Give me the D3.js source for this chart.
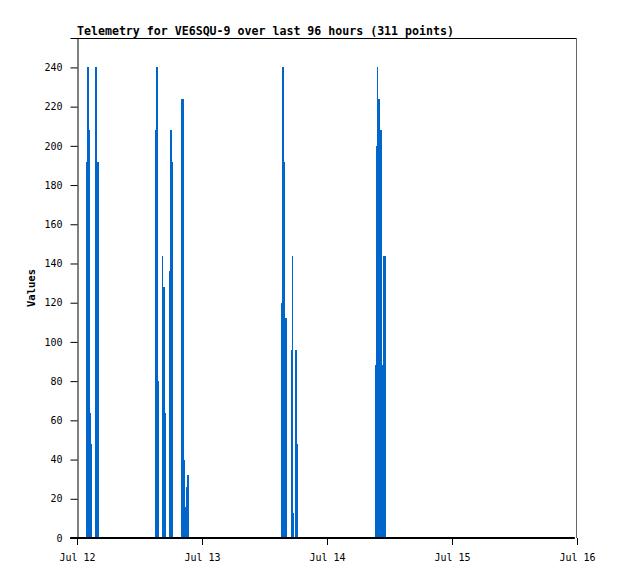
<!DOCTYPE html>
<html>
<head>
<meta charset="utf-8">
<script src="https://cdn.jsdelivr.net/npm/d3@7"></script>
<style>
  html, body { margin: 0; padding: 0; background: #fff; }
  svg { display: block; }
  text { font-family: "DejaVu Sans Mono", "Liberation Mono", monospace; }
</style>
</head>
<body>
<script>
// ---- data ----
const chartTitle = "Telemetry for VE6SQU-9 over last 96 hours (311 points)";
const yTitle = "Values";
const readingTimes = [
  "07-12 00:02",
  "07-12 01:44", "07-12 01:55", "07-12 02:18", "07-12 02:30", "07-12 02:41", "07-12 02:53",
  "07-12 03:24", "07-12 03:47", "07-12 04:14",
  "07-12 14:59", "07-12 15:14", "07-12 15:30", "07-12 15:41",
  "07-12 16:17", "07-12 16:34", "07-12 16:50", "07-12 17:05",
  "07-12 17:40", "07-12 17:55", "07-12 18:11", "07-12 18:26",
  "07-12 19:58", "07-12 20:29", "07-12 20:41", "07-12 20:52", "07-12 20:56", "07-12 21:07", "07-12 21:25",
  "07-13 15:10", "07-13 15:25", "07-13 15:41", "07-13 16:00", "07-13 16:16",
  "07-13 17:02", "07-13 17:16", "07-13 17:31", "07-13 17:44",
  "07-13 17:54", "07-13 18:10", "07-13 18:22",
  "07-14 09:13", "07-14 09:24", "07-14 09:34", "07-14 09:51", "07-14 10:14", "07-14 10:30", "07-14 10:42", "07-14 11:16",
  "07-15 23:35"
];
const readingValues = [
  0,
  192, 240, 208, 64, 48, 0,
  240, 192, 0,
  208, 240, 80, 0,
  144, 128, 64, 0,
  136, 208, 192, 0,
  224, 40, 16, 4, 26, 32, 0,
  120, 240, 192, 112, 0,
  96, 144, 13, 0,
  96, 48, 0,
  88, 200, 240, 224, 208, 88, 144, 0,
  0
];
const xTickTimes = ["07-12 00:00", "07-13 00:00", "07-14 00:00", "07-15 00:00", "07-16 00:00"];
const xTickLabels = ["Jul 12", "Jul 13", "Jul 14", "Jul 15", "Jul 16"];
const yTickValues = [0, 20, 40, 60, 80, 100, 120, 140, 160, 180, 200, 220, 240];
const yMax = 255;

// ---- drawing ----
const W = 618, H = 579;
const mLeft = 77, mRight = 577, mTop = 38, mBottom = 538;
const parse = d3.timeParse("%m-%d %H:%M");

const data = readingTimes.map((t, i) => ({ t: parse(t), v: readingValues[i] }));

const x = d3.scaleTime()
  .domain([parse(xTickTimes[0]), parse(xTickTimes[xTickTimes.length - 1])])
  .range([mLeft, mRight]);
const y = d3.scaleLinear().domain([0, yMax]).range([mBottom, mTop]);

const svg = d3.select("body").append("svg").attr("width", W).attr("height", H);
svg.append("rect").attr("width", W).attr("height", H).attr("fill", "#fff");

// bars as step-filled area
const area = d3.area()
  .x(d => x(d.t))
  .y0(y(0))
  .y1(d => y(d.v))
  .curve(d3.curveStepAfter);
svg.append("path").datum(data)
  .attr("d", area)
  .attr("fill", "#0066cc")
  .attr("shape-rendering", "crispEdges");

// frame
svg.append("line").attr("x1", mLeft).attr("x2", mRight).attr("y1", mTop + 0.5).attr("y2", mTop + 0.5)
  .attr("stroke", "#000");
svg.append("line").attr("x1", mRight - 0.5).attr("x2", mRight - 0.5).attr("y1", mTop).attr("y2", mBottom)
  .attr("stroke", "#666");

// y axis
const yAxis = d3.axisLeft(y).tickValues(yTickValues).tickSize(7).tickPadding(8).tickFormat(d3.format("d"));
const gy = svg.append("g").attr("transform", `translate(${mLeft + 0.5},0)`).call(yAxis);
gy.select(".domain").attr("stroke", "#000");
gy.selectAll(".tick line").attr("stroke", "#000");
gy.selectAll(".tick text").attr("font-size", "10px").attr("fill", "#000")
  .attr("font-family", '"DejaVu Sans Mono", monospace');

// x axis
const xAxis = d3.axisBottom(x).tickValues(xTickTimes.map(parse)).tickSize(7).tickPadding(9)
  .tickFormat((d, i) => xTickLabels[i]);
const gx = svg.append("g").attr("transform", `translate(0,${mBottom})`).call(xAxis);
gx.select(".domain").remove();
gx.selectAll(".tick line").attr("stroke", "#000");
gx.selectAll(".tick text").attr("font-size", "10px").attr("fill", "#000")
  .attr("font-family", '"DejaVu Sans Mono", monospace');

// zero baseline of the series (thick)
const first = data[0].t, last = data[data.length - 1].t;
svg.append("line")
  .attr("x1", x(first) - 7).attr("x2", x(last))
  .attr("y1", y(0)).attr("y2", y(0))
  .attr("stroke", "#000").attr("stroke-width", 2);

// titles
svg.append("text").attr("x", mLeft).attr("y", 35)
  .attr("font-size", "11.6px").attr("font-weight", "bold").attr("fill", "#000")
  .text(chartTitle);
svg.append("text")
  .attr("transform", `translate(35,${(mTop + mBottom) / 2}) rotate(-90)`)
  .attr("text-anchor", "middle")
  .attr("font-size", "10.5px").attr("font-weight", "bold").attr("fill", "#000")
  .text(yTitle);
</script>
</body>
</html>
